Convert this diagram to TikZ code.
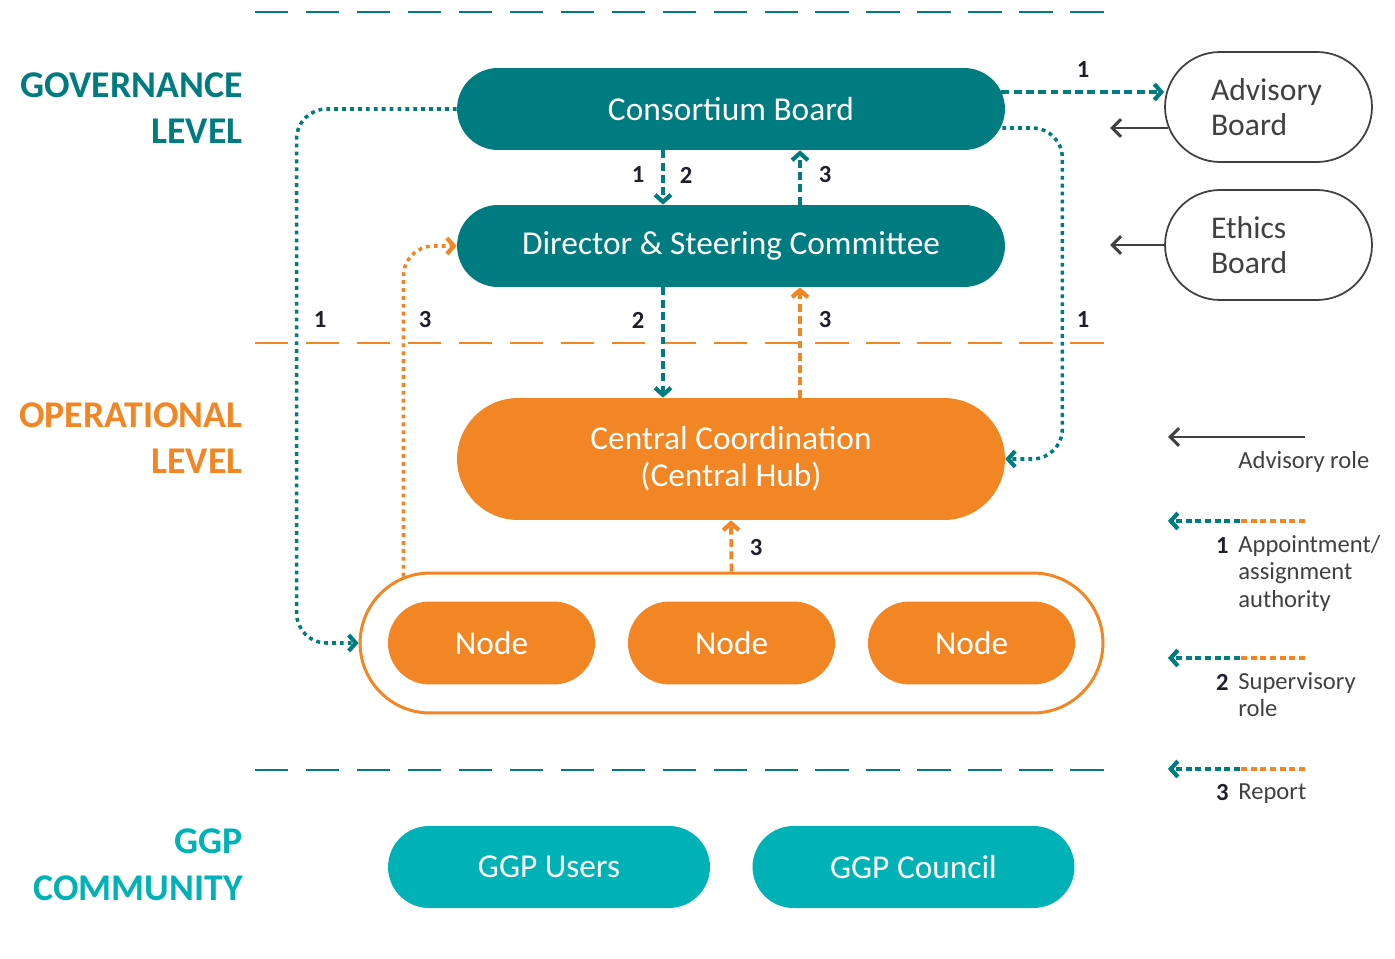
\documentclass[tikz,border=0pt]{standalone}
\usepackage{fontspec}
\setmainfont{Carlito}
\usetikzlibrary{shapes.misc,arrows.meta,calc}

\definecolor{govteal}{RGB}{0,123,127}
\definecolor{opsorange}{RGB}{242,133,36}
\definecolor{ggpcyan}{RGB}{0,178,181}
\definecolor{roletext}{RGB}{64,64,64}
\definecolor{numtext}{RGB}{30,30,45}

\begin{document}
\begin{tikzpicture}[x=0.02cm, y=-0.02cm,
    pill/.style={rounded rectangle, inner sep=0pt, text=white, font=\fontsize{19}{21}\selectfont},
    govbox/.style={pill, fill=govteal, minimum width=10.96cm, minimum height=1.64cm},
    opsbox/.style={pill, fill=opsorange, minimum width=4.14cm, minimum height=1.66cm},
    ggpbox/.style={pill, fill=ggpcyan, minimum width=6.44cm, minimum height=1.64cm},
    sidebox/.style={pill, draw=roletext, line width=1pt, text=roletext, align=left, text width=2.3cm,
      minimum width=4.14cm, minimum height=2.2cm, font=\fontsize{18}{20}\selectfont},
    levelname/.style={anchor=east, align=right, inner sep=0pt, font=\bfseries\fontsize{21.5}{26.6}\selectfont},
    sepline/.style={line width=1.1pt, dash pattern=on 19pt off 10pt},
    num/.style={inner sep=0pt, text=numtext, font=\bfseries\fontsize{14}{16}\selectfont},
    legtext/.style={inner sep=0pt, text=roletext, align=left, font=\fontsize{14}{15.6}\selectfont},
    tip/.style={-{Straight Barb[length=4pt,width=9pt,line width=2.4pt]}},
    tealdash/.style={tip, draw=govteal, line width=2.2pt, dash pattern=on 4.5pt off 2.5pt},
    orangedash/.style={tip, draw=opsorange, line width=2.2pt, dash pattern=on 4.5pt off 2.5pt},
    tealdot/.style={tip, draw=govteal, line width=2pt, dash pattern=on 2.2pt off 2.3pt, rounded corners=0.6cm},
    orangedot/.style={tip, draw=opsorange, line width=2pt, dash pattern=on 2.2pt off 2.3pt, rounded corners=0.6cm},
    legline/.style={line width=2pt, dash pattern=on 3.5pt off 2pt},
    advise/.style={draw=roletext, line width=1.3pt, -{Straight Barb[length=5pt,width=10pt,line width=1.8pt]}}]

  \useasboundingbox (0,0) rectangle (1395,959);

  % levels
  \draw [sepline, draw=govteal] (255,12) -- (1105,12);
  \draw [sepline, draw=opsorange] (255,343) -- (1105,343);
  \draw [sepline, draw=govteal] (255,770) -- (1105,770);

  \node [levelname, text=govteal] (govlevel) at (243,108) {GOVERNANCE\\LEVEL};
  \node [levelname, text=opsorange] (opslevel) at (243,438) {OPERATIONAL\\LEVEL};
  \node [levelname, text=ggpcyan] (ggplevel) at (243,865) {GGP\\COMMUNITY};

  % governance
  \node [govbox] (board) at (731,109) {Consortium Board};
  \node [govbox] (director) at (731,246) {Director \& Steering Committee};
  \node [sidebox] (advisory) at (1268.5,107) {Advisory\\Board};
  \node [sidebox] (ethics) at (1268.5,245) {Ethics\\Board};

  % operational
  \node [pill, fill=opsorange, align=center, minimum width=10.96cm, minimum height=2.44cm] (hub) at (731,459) {Central Coordination\\(Central Hub)};
  \node [pill, draw=opsorange, fill=white, line width=1.7pt, minimum width=14.86cm, minimum height=2.8cm] (nodes) at (731.5,643) {};
  \node [opsbox] (node1) at (491.5,643) {Node};
  \node [opsbox] (node2) at (731.5,643) {Node};
  \node [opsbox] (node3) at (971.5,643) {Node};

  % community
  \node [ggpbox] (users) at (549,867) {GGP Users};
  \node [ggpbox] (council) at (913.5,867) {GGP Council};

  % connectors
  \coordinate (advisoryend) at (1110,128);
  \coordinate (ethicsend) at (1110,245);
  \draw [advise] ($(advisory.west)+(4,21)$) -- (advisoryend);
  \draw [advise] (ethics.west) -- (ethicsend);
  \draw [tealdash] ($(board.east)+(-4,-17)$) -- ($(advisory.west)+(0,-15)$);
  \draw [tealdash] ($(board.south)+(-68,0)$) -- ($(director.north)+(-68,0)$);
  \draw [tealdash] ($(director.north)+(69,0)$) -- ($(board.south)+(69,0)$);
  \draw [tealdash] ($(director.south)+(-68,0)$) -- ($(hub.north)+(-68,0)$);
  \draw [orangedash] ($(hub.north)+(69,0)$) -- ($(director.south)+(69,0)$);
  \draw [orangedash] (nodes.north) -- (hub.south);
  \draw [tealdot] ($(board.east)+(-3,19)$) -| ($(hub.east)+(57,0)$) -- (hub.east);
  \draw [tealdot] (board.west) -| ($(nodes.west)+(-62,0)$) -- (nodes.west);
  \draw [orangedot] ($(nodes.north)+(-328,5)$) |- (director.west);

  \node [num] (n1top) at (1083,70) {1};
  \node [num] (n1a) at (638,175) {1};
  \node [num] (n2a) at (686,175) {2};
  \node [num] (n3a) at (825,175) {3};
  \node [num] (n1left) at (320,320) {1};
  \node [num] (n3left) at (425,320) {3};
  \node [num] (n2b) at (638,320) {2};
  \node [num] (n3b) at (825,320) {3};
  \node [num] (n1right) at (1083,320) {1};
  \node [num] (n3c) at (756,548) {3};

  % legend
  \coordinate (legA) at (1305,437);
  \coordinate (legB) at (1168,437);
  \draw [advise] (legA) -- (legB);
  \node [legtext, anchor=west] (legAtext) at (1238,462) {Advisory role};

  \coordinate (leg1o) at (1305,521);
  \coordinate (leg1m) at (1240,521);
  \coordinate (leg1t) at (1168,521);
  \draw [legline, draw=opsorange] (leg1o) -- (leg1m);
  \draw [legline, tip, draw=govteal] (leg1m) -- (leg1t);
  \node [num, anchor=base east] (leg1num) at (1229,553) {1};
  \node [legtext, anchor=north west] (leg1text) at (1238,535) {Appointment/\\assignment\\authority};

  \coordinate (leg2o) at (1305,658);
  \coordinate (leg2m) at (1240,658);
  \coordinate (leg2t) at (1168,658);
  \draw [legline, draw=opsorange] (leg2o) -- (leg2m);
  \draw [legline, tip, draw=govteal] (leg2m) -- (leg2t);
  \node [num, anchor=base east] (leg2num) at (1229,690) {2};
  \node [legtext, anchor=north west] (leg2text) at (1238,672) {Supervisory\\role};

  \coordinate (leg3o) at (1305,769);
  \coordinate (leg3m) at (1240,769);
  \coordinate (leg3t) at (1168,769);
  \draw [legline, draw=opsorange] (leg3o) -- (leg3m);
  \draw [legline, tip, draw=govteal] (leg3m) -- (leg3t);
  \node [num, anchor=base east] (leg3num) at (1229,800) {3};
  \node [legtext, anchor=north west] (leg3text) at (1238,783) {Report};
\end{tikzpicture}
\end{document}
